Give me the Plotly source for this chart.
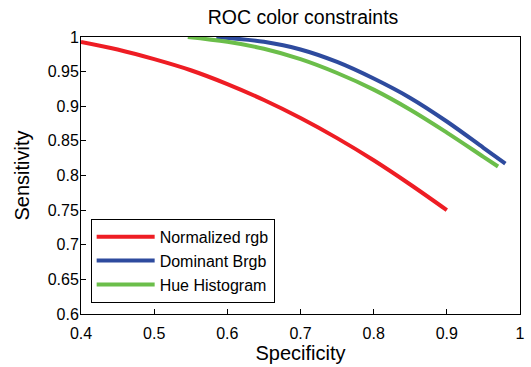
import plotly.graph_objects as go

# Data
red_x = [0.40, 0.45, 0.50, 0.55, 0.60, 0.65, 0.70, 0.75, 0.80, 0.85, 0.90]
red_y = [0.993, 0.982, 0.968, 0.952, 0.932, 0.909, 0.883, 0.854, 0.822, 0.787, 0.750]

blue_x = [0.585, 0.65, 0.70, 0.75, 0.80, 0.85, 0.90, 0.95, 0.98]
blue_y = [1.000, 0.993, 0.982, 0.964, 0.940, 0.912, 0.878, 0.840, 0.817]

green_x = [0.546, 0.60, 0.65, 0.70, 0.75, 0.80, 0.85, 0.90, 0.95, 0.97]
green_y = [1.000, 0.993, 0.983, 0.968, 0.948, 0.924, 0.895, 0.862, 0.827, 0.813]

names = ["Normalized rgb", "Dominant Brgb", "Hue Histogram"]
colors = ["#EE1D24", "#2E4B9E", "#6BBE4A"]

x_ticks = [0.4, 0.5, 0.6, 0.7, 0.8, 0.9, 1]
x_tick_labels = ["0.4", "0.5", "0.6", "0.7", "0.8", "0.9", "1"]
y_ticks = [0.6, 0.65, 0.7, 0.75, 0.8, 0.85, 0.9, 0.95, 1]
y_tick_labels = ["0.6", "0.65", "0.7", "0.75", "0.8", "0.85", "0.9", "0.95", "1"]

fig = go.Figure()
for xs, ys, n, c in zip([red_x, blue_x, green_x], [red_y, blue_y, green_y], names, colors):
    fig.add_trace(go.Scatter(x=xs, y=ys, mode="lines", name=n,
                             line=dict(color=c, width=4, shape="spline")))

font_family = "Liberation Sans, Arial, sans-serif"
fig.update_layout(
    width=531, height=367,
    margin=dict(l=81, r=6, t=37, b=53),
    paper_bgcolor="white", plot_bgcolor="white",
    font=dict(family=font_family, color="black", size=16),
    title=dict(text="ROC color constraints", x=(81 + 525) / 2 / 531, xanchor="center",
               y=1 - 17 / 367, yanchor="middle", font=dict(size=19.5)),
    showlegend=True,
    legend=dict(x=0.022, y=0.04, xanchor="left", yanchor="bottom",
                bordercolor="black", borderwidth=1, bgcolor="white",
                font=dict(size=16), tracegroupgap=0, itemwidth=58),
    xaxis=dict(range=[0.4, 1], tickvals=x_ticks, ticktext=x_tick_labels,
               showgrid=False, zeroline=False, showline=True, linecolor="black",
               linewidth=1, mirror=True, ticks="inside", ticklen=5, tickcolor="black",
               tickfont=dict(size=16), ticklabelstandoff=5,
               title=dict(text="Specificity", font=dict(size=20), standoff=0)),
    yaxis=dict(range=[0.6, 1], tickvals=y_ticks, ticktext=y_tick_labels,
               showgrid=False, zeroline=False, showline=True, linecolor="black",
               linewidth=1, mirror=True, ticks="inside", ticklen=5, tickcolor="black",
               tickfont=dict(size=16), ticklabelstandoff=-2,
               title=dict(text="Sensitivity", font=dict(size=20), standoff=12)),
)

fig.write_html("out.html")
